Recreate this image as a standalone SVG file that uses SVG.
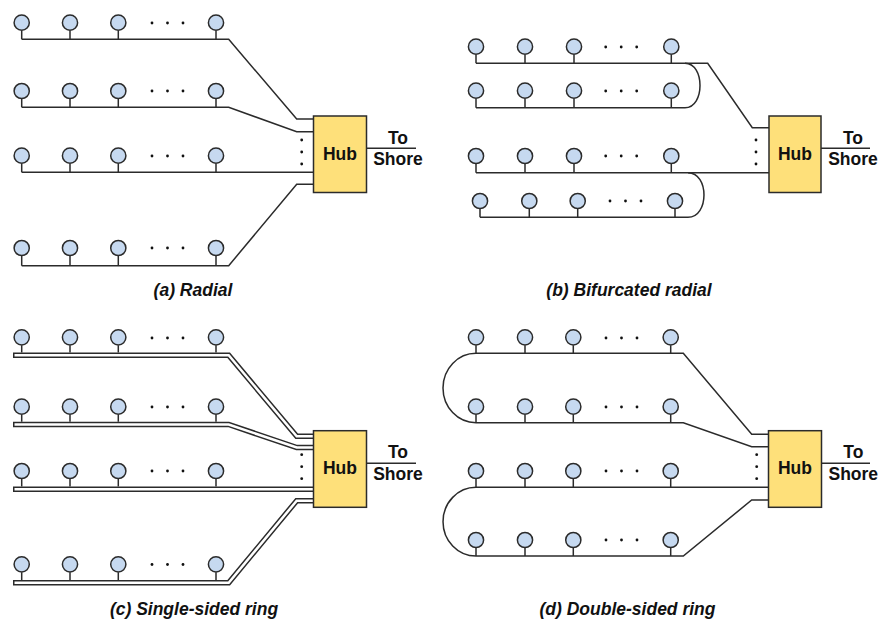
<svg xmlns="http://www.w3.org/2000/svg" width="883" height="622" viewBox="0 0 883 622">
<style>
.bg{fill:#ffffff}
.n{fill:#c6d9f0;stroke:#2b2b2b;stroke-width:1.5}
.w{fill:none;stroke:#2b2b2b;stroke-width:1.5}
.dd{fill:none;stroke:#2b2b2b;stroke-width:5.5}
.di{fill:none;stroke:#ffffff;stroke-width:2.5}
.hub{fill:#fee07a;stroke:#2b2b2b;stroke-width:1.5}
.dot{fill:#111111}
.t{font-family:"Liberation Sans",Arial,sans-serif;font-weight:bold;font-size:17.5px;fill:#111111;text-anchor:middle}
.cap{font-family:"Liberation Sans",Arial,sans-serif;font-weight:bold;font-style:italic;font-size:17.5px;fill:#111111;text-anchor:middle}
</style>
<defs>
<g id="d3"><circle cx="0" cy="0" r="1.4" class="dot"/><circle cx="15.5" cy="0" r="1.4" class="dot"/><circle cx="31" cy="0" r="1.4" class="dot"/></g>
<g id="v3"><circle cx="0" cy="0" r="1.4" class="dot"/><circle cx="0" cy="12" r="1.4" class="dot"/><circle cx="0" cy="24" r="1.4" class="dot"/></g>
</defs>
<rect class="bg" x="0" y="0" width="883" height="622"/>

<!-- connectors -->
<g id="connectors">
  <!-- (a) -->
  <path class="w" d="M21.7,39.3 H228.7 L296.7,119 H314"/>
  <path class="w" d="M21.7,107.3 H228.7 L296.7,131.7 H314"/>
  <path class="w" d="M21.7,172.3 H314"/>
  <path class="w" d="M21.7,265.7 H228.7 L296.7,184.3 H314"/>
  <path class="w" d="M367,148.3 H416"/>
  <!-- (b) -->
  <path class="w" d="M476,63.3 H707.7 L752.3,127.7 H769"/>
  <path class="w" d="M685,63.3 C705,63.3 705,107.7 685,107.7 H476"/>
  <path class="w" d="M476,172.7 H769"/>
  <path class="w" d="M688,172.7 C709.3,172.7 709.3,217.3 688,217.3 H480"/>
  <path class="w" d="M821,148.3 H870"/>
  <!-- (c) -->
  <path class="dd" d="M13,355.3 H228.7 L296.7,436.3 H314"/>
  <path class="di" d="M14.5,355.3 H228.7 L296.7,436.3 H314"/>
  <path class="dd" d="M13,424.5 H228.7 L296.7,447.5 H314"/>
  <path class="di" d="M14.5,424.5 H228.7 L296.7,447.5 H314"/>
  <path class="dd" d="M13,489.3 H314"/>
  <path class="di" d="M14.5,489.3 H314"/>
  <path class="dd" d="M13,582.7 H228.7 L296.7,500.7 H314"/>
  <path class="di" d="M14.5,582.7 H228.7 L296.7,500.7 H314"/>
  <path class="w" d="M367,463.3 H416"/>
  <!-- (d) -->
  <path class="w" d="M769,434.3 H751.7 L683.3,353.3 H476 A33,34.7 0 0 0 476,422.7 H683.3 L751.7,446.7 H769"/>
  <path class="w" d="M769,487.3 H476 A33,34.35 0 0 0 476,556 H683.3 L751.7,500 H769"/>
  <path class="w" d="M821,463.3 H870"/>
</g>

<!-- (a) radial -->
<g id="a-nodes">
  <g id="a-r1">
    <path class="w" d="M21.7,30.7 V39.3 M70,30.7 V39.3 M118.3,30.7 V39.3 M216,30.7 V39.3"/>
    <circle class="n" cx="21.7" cy="22.7" r="7.6"/><circle class="n" cx="70" cy="22.7" r="7.6"/><circle class="n" cx="118.3" cy="22.7" r="7.6"/><circle class="n" cx="216" cy="22.7" r="7.6"/>
    <use href="#d3" x="152" y="23"/>
  </g>
  <g id="a-r2">
    <path class="w" d="M21.7,99 V107.3 M70,99 V107.3 M118.3,99 V107.3 M216,99 V107.3"/>
    <circle class="n" cx="21.7" cy="91" r="7.6"/><circle class="n" cx="70" cy="91" r="7.6"/><circle class="n" cx="118.3" cy="91" r="7.6"/><circle class="n" cx="216" cy="91" r="7.6"/>
    <use href="#d3" x="152" y="91"/>
  </g>
  <g id="a-r3">
    <path class="w" d="M21.7,163.7 V172.3 M70,163.7 V172.3 M118.3,163.7 V172.3 M216,163.7 V172.3"/>
    <circle class="n" cx="21.7" cy="155.7" r="7.6"/><circle class="n" cx="70" cy="155.7" r="7.6"/><circle class="n" cx="118.3" cy="155.7" r="7.6"/><circle class="n" cx="216" cy="155.7" r="7.6"/>
    <use href="#d3" x="152" y="156"/>
  </g>
  <g id="a-r4">
    <path class="w" d="M21.7,256 V265.7 M70,256 V265.7 M118.3,256 V265.7 M216,256 V265.7"/>
    <circle class="n" cx="21.7" cy="248" r="7.6"/><circle class="n" cx="70" cy="248" r="7.6"/><circle class="n" cx="118.3" cy="248" r="7.6"/><circle class="n" cx="216" cy="248" r="7.6"/>
    <use href="#d3" x="152" y="248"/>
  </g>
</g>
<g id="a-hub">
  <rect class="hub" x="313.5" y="116" width="53" height="76.5"/>
  <text class="t" x="340" y="159.5">Hub</text>
  <use href="#v3" x="301.7" y="140"/>
</g>
<g id="a-shore">
  <text class="t" x="398" y="143.5">To</text>
  <text class="t" x="398" y="165">Shore</text>
</g>
<text class="cap" x="193" y="296">(a) Radial</text>

<!-- (b) bifurcated radial -->
<g id="b-nodes">
  <g id="b-r1">
    <path class="w" d="M476,54.7 V63.3 M525,54.7 V63.3 M574,54.7 V63.3 M671.3,54.7 V63.3"/>
    <circle class="n" cx="476" cy="46.7" r="7.6"/><circle class="n" cx="525" cy="46.7" r="7.6"/><circle class="n" cx="574" cy="46.7" r="7.6"/><circle class="n" cx="671.3" cy="46.7" r="7.6"/>
    <use href="#d3" x="605.7" y="47"/>
  </g>
  <g id="b-r2">
    <path class="w" d="M476,98.7 V107.7 M525,98.7 V107.7 M574,98.7 V107.7 M671.3,98.7 V107.7"/>
    <circle class="n" cx="476" cy="90.7" r="7.6"/><circle class="n" cx="525" cy="90.7" r="7.6"/><circle class="n" cx="574" cy="90.7" r="7.6"/><circle class="n" cx="671.3" cy="90.7" r="7.6"/>
    <use href="#d3" x="605.7" y="91"/>
  </g>
  <g id="b-r3">
    <path class="w" d="M476,164 V172.7 M525,164 V172.7 M574,164 V172.7 M671.3,164 V172.7"/>
    <circle class="n" cx="476" cy="156" r="7.6"/><circle class="n" cx="525" cy="156" r="7.6"/><circle class="n" cx="574" cy="156" r="7.6"/><circle class="n" cx="671.3" cy="156" r="7.6"/>
    <use href="#d3" x="605.7" y="156"/>
  </g>
  <g id="b-r4">
    <path class="w" d="M480,209 V217.3 M529.3,209 V217.3 M577.7,209 V217.3 M675,209 V217.3"/>
    <circle class="n" cx="480" cy="201" r="7.6"/><circle class="n" cx="529.3" cy="201" r="7.6"/><circle class="n" cx="577.7" cy="201" r="7.6"/><circle class="n" cx="675" cy="201" r="7.6"/>
    <use href="#d3" x="610" y="201"/>
  </g>
</g>
<g id="b-hub">
  <rect class="hub" x="769" y="116" width="52" height="76.5"/>
  <text class="t" x="795" y="159.5">Hub</text>
  <use href="#v3" x="756" y="140"/>
</g>
<g id="b-shore">
  <text class="t" x="853" y="143.5">To</text>
  <text class="t" x="853" y="165">Shore</text>
</g>
<text class="cap" x="629" y="296">(b) Bifurcated radial</text>

<!-- (c) single-sided ring -->
<g id="c-nodes">
  <g id="c-r1">
    <path class="w" d="M21.7,345.3 V352.5 M70,345.3 V352.5 M118.3,345.3 V352.5 M216,345.3 V352.5"/>
    <circle class="n" cx="21.7" cy="337.3" r="7.6"/><circle class="n" cx="70" cy="337.3" r="7.6"/><circle class="n" cx="118.3" cy="337.3" r="7.6"/><circle class="n" cx="216" cy="337.3" r="7.6"/>
    <use href="#d3" x="152" y="338"/>
  </g>
  <g id="c-r2">
    <path class="w" d="M21.7,414.7 V421.7 M70,414.7 V421.7 M118.3,414.7 V421.7 M216,414.7 V421.7"/>
    <circle class="n" cx="21.7" cy="406.7" r="7.6"/><circle class="n" cx="70" cy="406.7" r="7.6"/><circle class="n" cx="118.3" cy="406.7" r="7.6"/><circle class="n" cx="216" cy="406.7" r="7.6"/>
    <use href="#d3" x="152" y="407"/>
  </g>
  <g id="c-r3">
    <path class="w" d="M21.7,479 V486.5 M70,479 V486.5 M118.3,479 V486.5 M216,479 V486.5"/>
    <circle class="n" cx="21.7" cy="471" r="7.6"/><circle class="n" cx="70" cy="471" r="7.6"/><circle class="n" cx="118.3" cy="471" r="7.6"/><circle class="n" cx="216" cy="471" r="7.6"/>
    <use href="#d3" x="152" y="471"/>
  </g>
  <g id="c-r4">
    <path class="w" d="M21.7,572.3 V580 M70,572.3 V580 M118.3,572.3 V580 M216,572.3 V580"/>
    <circle class="n" cx="21.7" cy="564.3" r="7.6"/><circle class="n" cx="70" cy="564.3" r="7.6"/><circle class="n" cx="118.3" cy="564.3" r="7.6"/><circle class="n" cx="216" cy="564.3" r="7.6"/>
    <use href="#d3" x="152" y="564.5"/>
  </g>
</g>
<g id="c-hub">
  <rect class="hub" x="313.5" y="430.7" width="53" height="76.6"/>
  <text class="t" x="340" y="474.2">Hub</text>
  <use href="#v3" x="301.7" y="454.7"/>
</g>
<g id="c-shore">
  <text class="t" x="398" y="458.2">To</text>
  <text class="t" x="398" y="479.7">Shore</text>
</g>
<text class="cap" x="194" y="614.5">(c) Single-sided ring</text>

<!-- (d) double-sided ring -->
<g id="d-nodes">
  <g id="d-r1">
    <path class="w" d="M476,345.3 V353.3 M525,345.3 V353.3 M573.3,345.3 V353.3 M670.7,345.3 V353.3"/>
    <circle class="n" cx="476" cy="337.3" r="7.6"/><circle class="n" cx="525" cy="337.3" r="7.6"/><circle class="n" cx="573.3" cy="337.3" r="7.6"/><circle class="n" cx="670.7" cy="337.3" r="7.6"/>
    <use href="#d3" x="606" y="338"/>
  </g>
  <g id="d-r2">
    <path class="w" d="M476,414.7 V422.7 M525,414.7 V422.7 M573.3,414.7 V422.7 M670.7,414.7 V422.7"/>
    <circle class="n" cx="476" cy="406.7" r="7.6"/><circle class="n" cx="525" cy="406.7" r="7.6"/><circle class="n" cx="573.3" cy="406.7" r="7.6"/><circle class="n" cx="670.7" cy="406.7" r="7.6"/>
    <use href="#d3" x="606" y="407"/>
  </g>
  <g id="d-r3">
    <path class="w" d="M476,479 V487.3 M525,479 V487.3 M573.3,479 V487.3 M670.7,479 V487.3"/>
    <circle class="n" cx="476" cy="471" r="7.6"/><circle class="n" cx="525" cy="471" r="7.6"/><circle class="n" cx="573.3" cy="471" r="7.6"/><circle class="n" cx="670.7" cy="471" r="7.6"/>
    <use href="#d3" x="606" y="471"/>
  </g>
  <g id="d-r4">
    <path class="w" d="M476,548 V556 M525,548 V556 M573.3,548 V556 M670.7,548 V556"/>
    <circle class="n" cx="476" cy="540" r="7.6"/><circle class="n" cx="525" cy="540" r="7.6"/><circle class="n" cx="573.3" cy="540" r="7.6"/><circle class="n" cx="670.7" cy="540" r="7.6"/>
    <use href="#d3" x="606" y="540"/>
  </g>
</g>
<g id="d-hub">
  <rect class="hub" x="768.5" y="430.7" width="53" height="76.6"/>
  <text class="t" x="795" y="474.2">Hub</text>
  <use href="#v3" x="756.7" y="454.7"/>
</g>
<g id="d-shore">
  <text class="t" x="853.3" y="458.2">To</text>
  <text class="t" x="853.3" y="479.7">Shore</text>
</g>
<text class="cap" x="627.5" y="614.5">(d) Double-sided ring</text>
</svg>
